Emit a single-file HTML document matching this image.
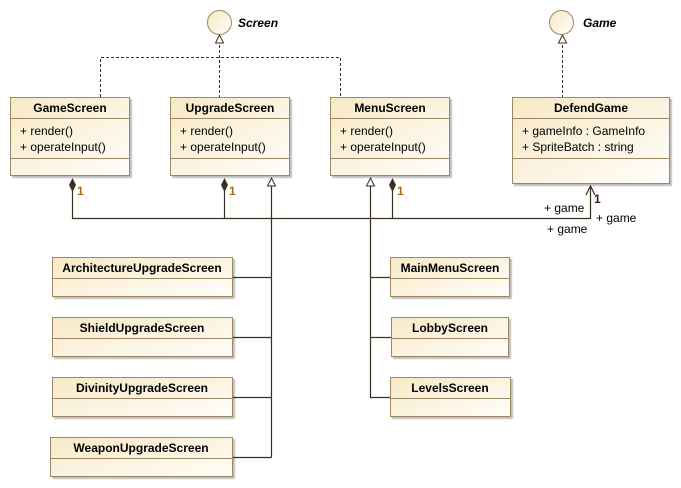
<!DOCTYPE html>
<html><head><style>body{margin:0;background:#fff}svg{display:block}text{font-family:"Liberation Sans",Arial,sans-serif;font-size:12px;fill:#000}</style></head><body>
<svg width="681" height="488" viewBox="0 0 681 488" xmlns="http://www.w3.org/2000/svg">
<defs>
<linearGradient id="g" x1="0" y1="0" x2="1" y2="1"><stop offset="0" stop-color="#f8e8c4"/><stop offset="1" stop-color="#fffefb"/></linearGradient>
<filter id="s"><feDropShadow dx="2" dy="2" stdDeviation="0.6" flood-color="#000" flood-opacity="0.25"/></filter>
</defs>
<g fill="none" stroke="#3a3020" stroke-dasharray="3,2">
<path d="M219.5 40V97M100.5 97V57.5H340.5V97M562.5 40V97"/>
</g>
<g fill="#fff" stroke="#3a3020"><path d="M215.5 43L219.5 35L223.5 43Z"/><path d="M558.5 43L562.5 35L566.5 43Z"/></g>
<circle cx="219.5" cy="22.5" r="12" fill="url(#g)" stroke="#9c8864"/>
<circle cx="561.5" cy="22.5" r="12" fill="url(#g)" stroke="#9c8864"/>
<text x="238" y="27" font-weight="bold" font-style="italic">Screen</text>
<text x="583" y="27" font-weight="bold" font-style="italic">Game</text>
<g fill="none" stroke="#3a3020" stroke-width="1.2">
<path d="M72.5 185V218.5H590.5V186M224.5 185V218.5M392.5 185V218.5"/>
<path d="M271.5 186V457.5M232 277.5H271.5M232 337.5H271.5M232 397.5H271.5M232 457.5H271.5"/>
<path d="M370.5 186V397.5H390M370.5 277.5H390M370.5 337.5H391"/>
<path d="M586 195L590.5 186L595 195"/>
</g>
<g fill="#fff" stroke="#3a3020"><path d="M267.5 186L271.5 178L275.5 186Z"/><path d="M366.5 186L370.5 178L374.5 186Z"/></g>
<g fill="#3a3020"><path d="M72.5 178L76 185L72.5 192L69 185Z"/><path d="M224.5 178L228 185L224.5 192L221 185Z"/><path d="M392.5 178L396 185L392.5 192L389 185Z"/></g>
<g fill="#a0600c" font-weight="bold"><text x="77" y="195" style="fill:#a06a10">1</text><text x="229" y="195" style="fill:#a06a10">1</text><text x="397" y="195" style="fill:#a06a10">1</text><text x="594" y="203" style="fill:#401020">1</text></g>
<text x="544" y="212" font-size="11">+ game</text>
<text x="596" y="222" font-size="11">+ game</text>
<text x="547" y="233" font-size="11">+ game</text>
<g stroke="#9c8864" fill="url(#g)" filter="url(#s)">
<rect x="10.5" y="97.5" width="119" height="78"/>
<rect x="170.5" y="97.5" width="119" height="78"/>
<rect x="330.5" y="97.5" width="119" height="78"/>
<rect x="512.5" y="97.5" width="157" height="86"/>
<rect x="52.5" y="257.5" width="180" height="39"/>
<rect x="52.5" y="317.5" width="180" height="39"/>
<rect x="52.5" y="377.5" width="180" height="39"/>
<rect x="50.5" y="437.5" width="182" height="39"/>
<rect x="390.5" y="257.5" width="119" height="39"/>
<rect x="391.5" y="317.5" width="117" height="39"/>
<rect x="390.5" y="377.5" width="120" height="39"/>
</g>
<g stroke="#9c8864">
<path d="M10 118.5H130M10 158.5H130M170 118.5H290M170 158.5H290M330 118.5H450M330 158.5H450M512 118.5H670M512 158.5H670"/>
<path d="M52 278.5H233M52 338.5H233M52 398.5H233M50 458.5H233M390 278.5H510M391 338.5H509M390 398.5H511"/>
</g>
<g font-weight="bold" text-anchor="middle">
<text x="70" y="112">GameScreen</text><text x="230" y="112">UpgradeScreen</text><text x="390" y="112">MenuScreen</text><text x="591" y="112">DefendGame</text>
<text x="142" y="272">ArchitectureUpgradeScreen</text><text x="142" y="332">ShieldUpgradeScreen</text><text x="142" y="392">DivinityUpgradeScreen</text><text x="141" y="452">WeaponUpgradeScreen</text>
<text x="450" y="272">MainMenuScreen</text><text x="450" y="332">LobbyScreen</text><text x="450" y="392">LevelsScreen</text>
</g>
<g>
<text x="20" y="135">+ render()</text><text x="20" y="151">+ operateInput()</text>
<text x="180" y="135">+ render()</text><text x="180" y="151">+ operateInput()</text>
<text x="340" y="135">+ render()</text><text x="340" y="151">+ operateInput()</text>
<text x="522" y="135">+ gameInfo : GameInfo</text><text x="522" y="151">+ SpriteBatch : string</text>
</g>
</svg>
</body></html>
